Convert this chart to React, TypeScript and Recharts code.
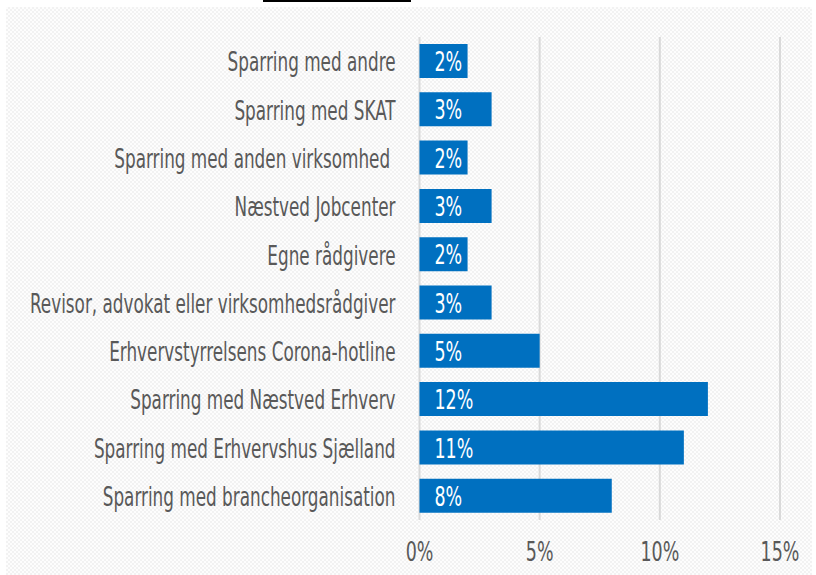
import React from 'react';
import { BarChart, Bar, XAxis, YAxis, CartesianGrid, LabelList } from 'recharts';

const categories: string[] = [
  'Sparring med andre',
  'Sparring med SKAT',
  'Sparring med anden virksomhed ',
  'Næstved Jobcenter',
  'Egne rådgivere',
  'Revisor, advokat eller virksomhedsrådgiver',
  'Erhvervstyrrelsens Corona-hotline',
  'Sparring med Næstved Erhverv',
  'Sparring med Erhvervshus Sjælland',
  'Sparring med brancheorganisation',
];
const values: number[] = [2, 3, 2, 3, 2, 3, 5, 12, 11, 8];
const xTicks: number[] = [0, 5, 10, 15];

const data = categories.map((name, i) => ({ name, value: values[i] }));

const FONT = "'DejaVu Sans Condensed', 'Liberation Sans Narrow', sans-serif";
const TEXT = '#595959';
const SX = 0.72;

const YTick = (props: any) => {
  const { x, y, payload } = props;
  return (
    <text
      transform={`translate(${x - 24},${y + 1}) scale(${SX},1)`}
      x={0}
      y={0}
      textAnchor="end"
      dominantBaseline="central"
      fill={TEXT}
      fontFamily={FONT}
      fontSize={26}
      style={{ whiteSpace: 'pre' }}
    >
      {payload.value}
    </text>
  );
};

const XTick = (props: any) => {
  const { x, y, payload } = props;
  return (
    <text
      transform={`translate(${x},${y + 32}) scale(${SX},1)`}
      x={0}
      y={0}
      textAnchor="middle"
      dominantBaseline="central"
      fill={TEXT}
      fontFamily={FONT}
      fontSize={27}
    >
      {payload.value + '%'}
    </text>
  );
};

const BarLabel = (props: any) => {
  const { x, y, height, value } = props;
  return (
    <text
      transform={`translate(${x + 15},${y + height / 2 + 1}) scale(${SX},1)`}
      x={0}
      y={0}
      textAnchor="start"
      dominantBaseline="central"
      fill="#ffffff"
      fontFamily={FONT}
      fontSize={27}
    >
      {value + '%'}
    </text>
  );
};

export default function App() {
  return (
    <div style={{ position: 'fixed', left: 0, top: 0, width: 816, height: 575, background: '#ffffff', overflow: 'hidden' }}>
      <div style={{ position: 'absolute', left: 263, top: 0, width: 148, height: 2, background: '#000' }} />
      <div
        style={{
          position: 'absolute',
          left: 6,
          top: 7,
          width: 806,
          height: 568,
          background: 'repeating-conic-gradient(#f2f2f2 0% 25%, #fdfdfd 0% 50%) 0 0 / 4px 4px',
        }}
      >
        <BarChart
          width={806}
          height={568}
          data={data}
          layout="vertical"
          margin={{ top: 30, right: 32, bottom: 25, left: 0 }}
          barSize={34}
        >
          <CartesianGrid horizontal={false} vertical={true} stroke="#d9d9d9" strokeWidth={2} />
          <XAxis
            type="number"
            dataKey="value"
            domain={[0, 15]}
            ticks={xTicks}
            axisLine={false}
            tickLine={false}
            tickSize={0}
            tickMargin={0}
            height={30}
            tick={<XTick />}
            interval={0}
          />
          <YAxis
            type="category"
            dataKey="name"
            width={413.5}
            axisLine={false}
            tickLine={false}
            tickSize={0}
            tickMargin={0}
            tick={<YTick />}
            interval={0}
          />
          <Bar dataKey="value" fill="#0070C0" isAnimationActive={false}>
            <LabelList dataKey="value" content={<BarLabel />} />
          </Bar>
        </BarChart>
      </div>
    </div>
  );
}
